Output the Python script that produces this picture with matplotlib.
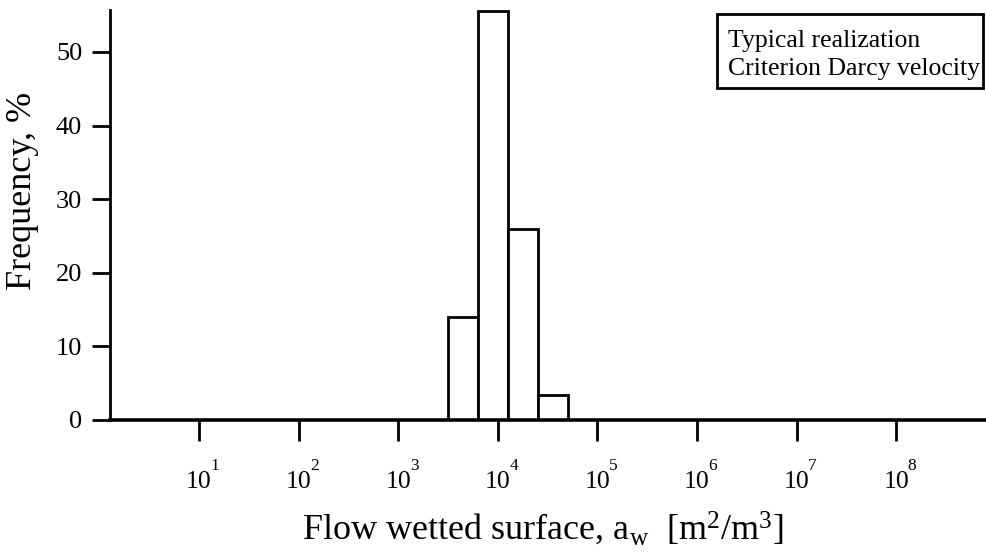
import matplotlib
matplotlib.use("Agg")
import matplotlib.pyplot as plt
import matplotlib.transforms as mtransforms
from matplotlib.patches import Rectangle
import numpy as np

# Histogram of flow wetted surface (log-spaced bins, factor ~2 per bin)
bin_edges = [3162, 6310, 12590, 25120, 50120]
frequency = [14.0, 55.5, 26.0, 3.4]

tick_exponents = [1, 2, 3, 4, 5, 6, 7, 8]
y_ticks = [0, 10, 20, 30, 40, 50]
legend_lines = ["Typical realization", "Criterion Darcy velocity"]

plt.rcParams["font.family"] = ["Liberation Serif", "DejaVu Serif"]
plt.rcParams["mathtext.fontset"] = "custom"
plt.rcParams["mathtext.rm"] = "Liberation Serif"
plt.rcParams["mathtext.it"] = "Liberation Serif:italic"
plt.rcParams["mathtext.bf"] = "Liberation Serif:bold"

W, H = 987, 558
fig = plt.figure(figsize=(W / 100, H / 100), dpi=100)
ax = fig.add_axes([110 / W, 1 - 420 / H, 877 / W, 410 / H])

edges = np.array(bin_edges, dtype=float)
ax.bar(edges[:-1], frequency, width=np.diff(edges), align="edge",
       facecolor="white", edgecolor="black", linewidth=2.0, zorder=2)

ax.set_xscale("log")
ax.set_xlim(10 ** 0.106, 10 ** 8.912)
ax.set_ylim(0, 55.7)

for side in ("top", "right"):
    ax.spines[side].set_visible(False)
ax.spines["left"].set_linewidth(2.0)
ax.spines["bottom"].set_linewidth(2.6)
ax.spines["bottom"].set_zorder(3)

# y axis
ax.set_yticks(y_ticks)
ax.set_yticklabels([str(v) for v in y_ticks])
ax.tick_params(axis="y", direction="out", length=13, width=2.0,
               pad=7, labelsize=19)

# x axis: decade ticks drawn as "10" with raised exponent
xt = [10.0 ** e for e in tick_exponents]
ax.set_xticks(xt)
ax.set_xticklabels(["10"] * len(xt))
ax.xaxis.set_minor_locator(matplotlib.ticker.NullLocator())
ax.tick_params(axis="x", direction="out", length=15, width=2.0,
               pad=22, labelsize=18.5)
trans = mtransforms.blended_transform_factory(ax.transData, ax.transAxes)
for e, x in zip(tick_exponents, xt):
    ax.annotate(str(e), xy=(x, 0), xycoords=trans,
                xytext=(11.5, -36), textcoords="offset points",
                ha="center", va="baseline", fontsize=12.5,
                annotation_clip=False)

# axis titles
fig.text(23 / W, 1 - 191 / H, "Frequency, %", rotation=90,
         ha="center", va="center", fontsize=26)
fig.text(543 / W, 1 - 540 / H,
         r"Flow wetted surface, a$_{\mathrm{w}}$  [m$^{2}$/m$^{3}$]",
         ha="center", va="baseline", fontsize=26)

# annotation box
ax.add_patch(Rectangle((0.6921, 0.8098), 0.9954 - 0.6921, 0.9902 - 0.8098,
                       transform=ax.transAxes, facecolor="white",
                       edgecolor="black", linewidth=2.0, clip_on=False,
                       zorder=4))
for i, line in enumerate(legend_lines):
    ax.text(0.7047, 0.9098 - i * 0.0683, line, transform=ax.transAxes,
            ha="left", va="baseline", fontsize=18.5, zorder=5)

fig.savefig("out.png", dpi=100)
